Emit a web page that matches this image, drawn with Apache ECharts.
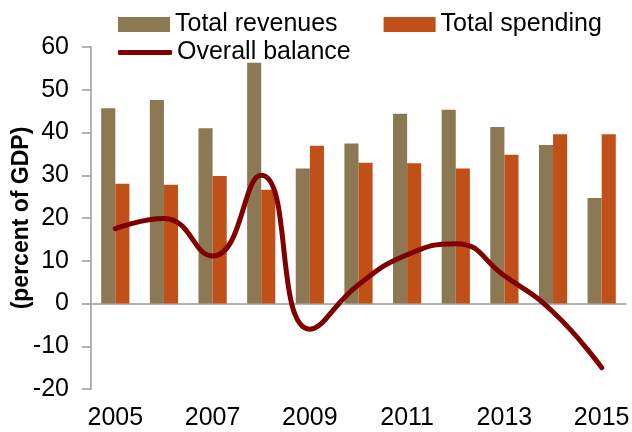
<!DOCTYPE html>
<html>
<head>
<meta charset="utf-8">
<script src="https://cdn.jsdelivr.net/npm/echarts@6/dist/echarts.min.js"></script>
<style>
  html, body { margin: 0; padding: 0; background: #fff; }
  #chart { width: 632px; height: 432px; }
</style>
</head>
<body>
<div id="chart"></div>
<script>
// categories
const years = ['2005', '2006', '2007', '2008', '2009', '2010', '2011', '2012', '2013', '2014', '2015']

// series values (percent of GDP)
const totalRevenues = [45.7, 47.6, 41.0, 56.3, 31.6, 37.4, 44.4, 45.3, 41.3, 37.1, 24.7]
const totalSpending = [28.0, 27.8, 29.8, 26.6, 36.9, 32.9, 32.8, 31.6, 34.8, 39.6, 39.6]
const overallBalance = [17.5, 19.9, 11.1, 30.0, -6.0, 4.4, 11.4, 14.0, 6.5, -2.0, -15.0]

// y axis ticks
const yMin = -20
const yMax = 60
const yStep = 10

const FONT = '"Liberation Sans", Arial, sans-serif'
const AXIS_GREY = '#9a9a9a'

const chart = echarts.init(document.getElementById('chart'))

chart.setOption({
  animation: false,
  textStyle: { fontFamily: FONT },
  grid: { left: 91, right: 6, top: 47, bottom: 43, outerBoundsMode: 'none' },
  // two legend boxes so the line sits on its own row
  legend: [
    {
      data: ['Total revenues', 'Total spending'],
      left: 113,
      top: 7,
      icon: 'rect',
      itemWidth: 52,
      itemHeight: 15,
      itemGap: 46,
      textStyle: { fontSize: 25, color: '#000', fontFamily: FONT }
    },
    {
      data: ['Overall balance'],
      left: 113,
      top: 35,
      icon: 'roundRect',
      itemWidth: 54,
      itemHeight: 5,
      textStyle: { fontSize: 25, color: '#000', fontFamily: FONT }
    }
  ],
  xAxis: [
    {
      // axis line drawn through zero
      type: 'category',
      data: years,
      axisLine: { onZero: true, lineStyle: { color: AXIS_GREY, width: 1.5 } },
      axisTick: { length: 9, lineStyle: { color: AXIS_GREY, width: 1.5 } },
      axisLabel: { show: false },
      splitLine: { show: false }
    },
    {
      // year labels at the bottom of the plot
      type: 'category',
      data: years,
      position: 'bottom',
      axisLine: { show: false, onZero: false },
      axisTick: { show: false },
      axisLabel: { interval: 1, fontSize: 25, color: '#000', margin: 17, fontFamily: FONT },
      splitLine: { show: false }
    }
  ],
  yAxis: {
    type: 'value',
    min: yMin,
    max: yMax,
    interval: yStep,
    name: '(percent of GDP)',
    nameLocation: 'middle',
    nameGap: 58,
    nameMoveOverlap: false,
    nameTextStyle: { fontSize: 23, fontWeight: 'bold', color: '#000', fontFamily: FONT },
    axisLine: { show: true, lineStyle: { color: AXIS_GREY, width: 1.5 } },
    axisTick: { show: true, length: 9, lineStyle: { color: AXIS_GREY, width: 1.5 } },
    axisLabel: { fontSize: 25, color: '#000', margin: 22, fontFamily: FONT },
    splitLine: { show: false }
  },
  series: [
    {
      name: 'Total revenues',
      type: 'bar',
      xAxisIndex: 0,
      data: totalRevenues,
      barGap: '0%',
      barCategoryGap: '42%',
      itemStyle: { color: '#8c7853' }
    },
    {
      name: 'Total spending',
      type: 'bar',
      xAxisIndex: 0,
      data: totalSpending,
      itemStyle: { color: '#c04f18' }
    },
    {
      name: 'Overall balance',
      type: 'line',
      xAxisIndex: 0,
      data: overallBalance,
      smooth: 0.5,
      showSymbol: false,
      symbol: 'none',
      lineStyle: { color: '#800000', width: 5, cap: 'round' },
      itemStyle: { color: '#800000' },
      z: 5
    }
  ]
})
</script>
</body>
</html>
